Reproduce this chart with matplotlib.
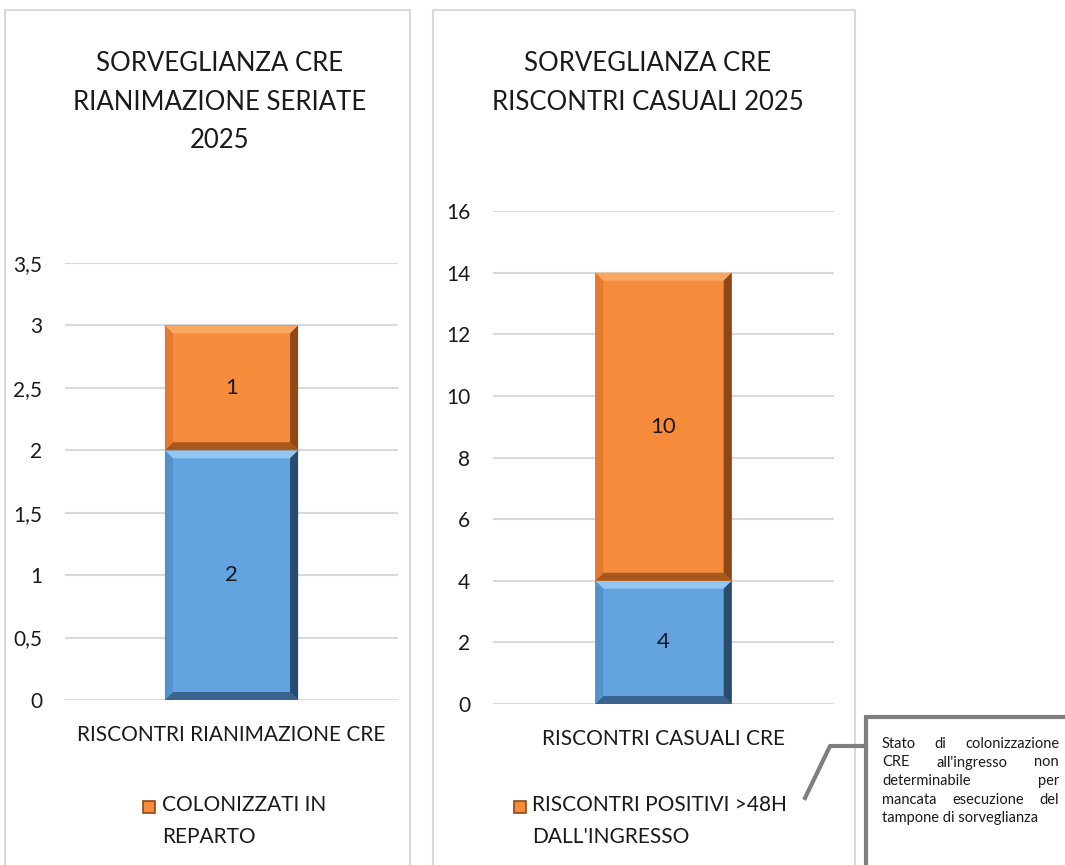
import matplotlib
matplotlib.use("Agg")
import matplotlib.pyplot as plt
from matplotlib.patches import Rectangle, Polygon
from matplotlib.lines import Line2D

W, H = 1065, 865
plt.rcParams['font.family'] = ['Lato', 'DejaVu Sans']

# data
left_title = "SORVEGLIANZA CRE\nRIANIMAZIONE SERIATE\n2025"
right_title = "SORVEGLIANZA CRE\nRISCONTRI CASUALI 2025"
left_category = ["RISCONTRI RIANIMAZIONE CRE"]
right_category = ["RISCONTRI CASUALI CRE"]
left_base = [2]
left_top = [1]
right_base = [4]
right_top = [10]
left_legend = "COLONIZZATI IN\nREPARTO"
right_legend = "RISCONTRI POSITIVI >48H\nDALL'INGRESSO"
left_ticks = [0, 0.5, 1, 1.5, 2, 2.5, 3, 3.5]
right_ticks = [0, 2, 4, 6, 8, 10, 12, 14, 16]
note_lines = ["Stato di colonizzazione", "CRE all'ingresso non", "determinabile per",
              "mancata esecuzione del", "tampone di sorveglianza"]

ORANGE = dict(face="#F68B3B", top="#F9A763", left="#E27A30", right="#8E4815", bottom="#A9581C")
BLUE = dict(face="#63A3DF", top="#93C6F2", left="#5592CC", right="#294B6E", bottom="#39648E")
GRID = "#D9D9D9"
TXT = "#1a1a1a"


def fx(x):
    return x / W


def fy(y):
    return 1 - y / H


fig = plt.figure(figsize=(W / 100, H / 100), dpi=100)
fig.patch.set_facecolor("white")

# chart frames
for x0, x1 in [(5, 410), (433, 855)]:
    fig.add_artist(Rectangle((fx(x0), fy(880)), fx(x1 - x0), (880 - 10) / H,
                             transform=fig.transFigure, fill=False, edgecolor=GRID, lw=1.5))


def bevel(ax, bars, colors, b=8):
    inv = fig.transFigure.inverted()
    for rect in bars:
        x0, y0 = rect.get_x(), rect.get_y()
        x1, y1 = x0 + rect.get_width(), y0 + rect.get_height()
        (px0, py0), (px1, py1) = ax.transData.transform([(x0, y0), (x1, y1)])
        sides = {
            "top": [(px0, py1), (px1, py1), (px1 - b, py1 - b), (px0 + b, py1 - b)],
            "bottom": [(px0, py0), (px1, py0), (px1 - b, py0 + b), (px0 + b, py0 + b)],
            "left": [(px0, py0), (px0, py1), (px0 + b, py1 - b), (px0 + b, py0 + b)],
            "right": [(px1, py0), (px1, py1), (px1 - b, py1 - b), (px1 - b, py0 + b)],
        }
        for name, pts in sides.items():
            fig.add_artist(Polygon(inv.transform(pts), closed=True, transform=fig.transFigure,
                                   facecolor=colors[name], edgecolor="none", zorder=5))


def make_chart(rect_px, ticks, base, top, category, fmt):
    x0, x1, ybot, ytop = rect_px
    ax = fig.add_axes([fx(x0), fy(ybot), fx(x1 - x0), (ybot - ytop) / H])
    ax.set_xlim(-0.5, 0.5)
    ax.set_ylim(ticks[0], ticks[-1])
    ax.set_yticks(ticks)
    ax.set_yticklabels([fmt(t) for t in ticks], fontsize=15, color=TXT)
    ax.tick_params(axis="y", length=0, pad=16.5)
    ax.set_xticks([0])
    ax.set_xticklabels(category, fontsize=15, color=TXT)
    ax.tick_params(axis="x", length=0, pad=18)
    for s in ax.spines.values():
        s.set_visible(False)
    ax.yaxis.grid(True, color=GRID, lw=1.5)
    ax.set_axisbelow(True)
    b1 = ax.bar([0], base, width=0.4, color=BLUE["face"], zorder=3)
    b2 = ax.bar([0], top, bottom=base, width=0.4, color=ORANGE["face"], zorder=3)
    bevel(ax, b1, BLUE)
    bevel(ax, b2, ORANGE)
    for bars, vals, offs in [(b1, base, [0] * len(base)), (b2, top, base)]:
        for r, v, o in zip(bars, vals, offs):
            ax.text(r.get_x() + r.get_width() / 2, o + v / 2, str(v), ha="center", va="center",
                    fontsize=16, color=TXT, zorder=10)
    return ax


def comma(t):
    return f"{t:g}".replace(".", ",")


make_chart((65, 398, 700, 263), left_ticks, left_base, left_top, left_category, comma)
make_chart((493, 834, 704, 211), right_ticks, right_base, right_top, right_category, comma)

# titles
fig.text(fx(220), fy(51), left_title, ha="center", va="top", fontsize=18.5, linespacing=1.68, color=TXT)
fig.text(fx(648), fy(51), right_title, ha="center", va="top", fontsize=18.5, linespacing=1.68, color=TXT)

# legends
for (mx, tx), label in [((143, 162), left_legend), ((514, 532), right_legend)]:
    fig.add_artist(Rectangle((fx(mx), fy(813)), fx(12), 12 / H, transform=fig.transFigure,
                             facecolor=ORANGE["face"], edgecolor=ORANGE["right"], lw=1.2))
    fig.text(fx(tx), fy(795), label, ha="left", va="top", fontsize=15, linespacing=1.75, color=TXT)

# callout
fig.add_artist(Rectangle((fx(866), fy(880)), fx(220), (880 - 717) / H, transform=fig.transFigure,
                         fill=False, edgecolor="#7F7F7F", lw=3))
fig.add_artist(Line2D([fx(866), fx(830), fx(805)], [fy(746), fy(746), fy(798)],
                      transform=fig.transFigure, color="#7F7F7F", lw=3))

# justified note text, one word at a time on a shared baseline
renderer = fig.canvas.get_renderer()
left_edge, right_edge = 882, 1059
for i, line in enumerate(note_lines):
    y = fy(748 + i * 18.5)
    words = line.split()
    if i == len(note_lines) - 1:
        fig.text(fx(left_edge), y, line, ha="left", va="baseline", fontsize=10.5, color=TXT)
        continue
    texts = [fig.text(0, y, w, ha="left", va="baseline", fontsize=10.5, color=TXT) for w in words]
    widths = [t.get_window_extent(renderer).width for t in texts]
    gap = (right_edge - left_edge - sum(widths)) / (len(words) - 1)
    x = left_edge
    for t, w in zip(texts, widths):
        t.set_x(fx(x))
        x += w + gap

fig.savefig("out.png", dpi=100, facecolor="white")
